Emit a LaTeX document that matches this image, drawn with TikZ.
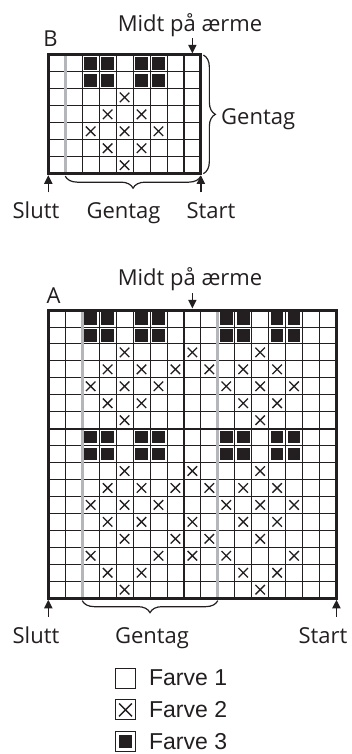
\documentclass[tikz,border=0pt]{standalone}
\usepackage{fontspec}
\setmainfont{Open Sans}
\newfontfamily\legendfont{Liberation Sans}
\usetikzlibrary{arrows.meta,positioning,calc,decorations.pathreplacing}
\definecolor{ink}{RGB}{35,31,32}
\definecolor{repgray}{RGB}{180,182,185}
\tikzset{
  cellline/.style={draw=ink, line width=0.9pt},
  midline/.style={draw=ink, line width=1.9pt},
  repline/.style={draw=repgray, line width=3pt},
  frame/.style={draw=ink, line width=3pt},
  xmark/.style={draw=ink, line width=1.3pt},
  dot/.style={fill=ink},
  pointer/.style={-{Triangle[length=8.5pt,width=8pt]}, line width=1.6pt, draw=ink, shorten >=1.6pt},
  gbrace/.style={decorate, decoration={brace, amplitude=12pt, raise=2.5pt}, line width=1.2pt, draw=ink},
  label/.style={font=\fontsize{22}{26}\selectfont, text=ink, inner sep=0pt, anchor=base},
  legbox/.style={draw=ink, line width=0.9pt, minimum size=20pt, inner sep=0pt},
  legtext/.style={font=\legendfont\fontsize{23}{27}\selectfont, text=ink, inner sep=0pt}
}

\begin{document}
\begin{tikzpicture}[x=1pt, y=-1pt]
\useasboundingbox (0,0) rectangle (352,754);

% chart B, 9 x 7 cells
\begin{scope}[shift={(48.3,55)}, x=16.95pt, y=-16.95pt]
  \foreach \cc in {1,...,8} \draw[cellline] (\cc,0) -- (\cc,7);
  \foreach \rr in {1,...,6} \draw[cellline] (0,\rr) -- (9,\rr);
  \draw[repline] (1,0) -- (1,7);
  \draw[midline] (8,0) -- (8,7);
  \draw[frame] (0,0) rectangle (9,7);
  \foreach \cc in {2,3,5,6} \foreach \rr in {0,1}
    \fill[dot] (\cc+.13,\rr+.13) rectangle (\cc+.87,\rr+.87);
  \foreach \cc/\rr in {4/2,3/3,5/3,2/4,4/4,6/4,3/5,5/5,4/6}
    \draw[xmark] (\cc+.22,\rr+.22) -- (\cc+.78,\rr+.78) (\cc+.78,\rr+.22) -- (\cc+.22,\rr+.78);
  \coordinate (B-ne) at (9,0);
  \coordinate (B-se) at (9,7);
  \coordinate (B-sw) at (0,7);
  \coordinate (B-rep) at (1,7);
  \coordinate (B-mid) at (8.5,0);
  \coordinate (B-midtop) at (8.5,-1);
  \coordinate (B-slutt) at (0,8.1);
  \coordinate (B-start) at (9,8.1);
\end{scope}
\draw[pointer] (B-midtop) -- (B-mid);
\draw[pointer] (B-slutt) -- (B-sw);
\draw[pointer] (B-start) -- (B-se);
\draw[gbrace] (B-ne) -- (B-se);
\draw[gbrace] (B-se) -- (B-rep);
\node[label] (B-name) at (50.5,47) {B};
\node[label] (B-midt) at (190,32) {Midt på ærme};
\node[label, anchor=base west] (B-gentag-side) at (221,124.5) {Gentag};
\node[label] (B-slutt-text) at (36,218) {Slutt};
\node[label] (B-gentag) at (123.5,218) {Gentag};
\node[label] (B-start-text) at (211,218) {Start};

% chart A, 17 x 17 cells
\begin{scope}[shift={(48.3,310)}, x=16.95pt, y=-16.95pt]
  \foreach \cc in {1,...,16} \draw[cellline] (\cc,0) -- (\cc,17);
  \foreach \rr in {1,...,16} \draw[cellline] (0,\rr) -- (17,\rr);
  \draw[repline] (2,0) -- (2,17) (10,0) -- (10,17);
  \draw[midline] (8,0) -- (8,17) (0,7) -- (17,7);
  \draw[frame] (0,0) rectangle (17,17);
  \foreach \cc in {2,3,5,6,10,11,13,14} \foreach \rr in {0,1,7,8}
    \fill[dot] (\cc+.13,\rr+.13) rectangle (\cc+.87,\rr+.87);
  \foreach \cc/\rr in {4/2,8/2,12/2, 3/3,5/3,7/3,9/3,11/3,13/3, 2/4,4/4,6/4,10/4,12/4,14/4,
      3/5,5/5,11/5,13/5, 4/6,12/6, 4/9,8/9,12/9, 3/10,5/10,7/10,9/10,11/10,13/10,
      2/11,4/11,6/11,10/11,12/11,14/11, 3/12,5/12,8/12,11/12,13/12, 4/13,7/13,9/13,12/13,
      2/14,6/14,8/14,10/14,14/14, 3/15,5/15,11/15,13/15, 4/16,12/16}
    \draw[xmark] (\cc+.22,\rr+.22) -- (\cc+.78,\rr+.78) (\cc+.78,\rr+.22) -- (\cc+.22,\rr+.78);
  \coordinate (A-se) at (17,17);
  \coordinate (A-sw) at (0,17);
  \coordinate (A-rep1) at (2,17);
  \coordinate (A-rep2) at (10,17);
  \coordinate (A-mid) at (8.5,0);
  \coordinate (A-midtop) at (8.5,-1);
  \coordinate (A-slutt) at (0,18.1);
  \coordinate (A-start) at (17,18.1);
\end{scope}
\draw[pointer] (A-midtop) -- (A-mid);
\draw[pointer] (A-slutt) -- (A-sw);
\draw[pointer] (A-start) -- (A-se);
\draw[gbrace] (A-rep2) -- (A-rep1);
\node[label] (A-name) at (53.5,303) {A};
\node[label] (A-midt) at (190,285) {Midt på ærme};
\node[label] (A-slutt-text) at (36,643) {Slutt};
\node[label] (A-gentag) at (152,643) {Gentag};
\node[label] (A-start-text) at (323,643) {Start};

% legend
\node[legbox] (farve1) at (125.5,678) {};
\node[legbox, below=11pt of farve1] (farve2) {};
\node[legbox, below=11pt of farve2] (farve3) {};
\draw[xmark] ([shift={(4,4)}]farve2.north west) -- ([shift={(-4,-4)}]farve2.south east)
  ([shift={(-4,4)}]farve2.north east) -- ([shift={(4,-4)}]farve2.south west);
\fill[dot] ([shift={(4,4)}]farve3.north west) rectangle ([shift={(-4,-4)}]farve3.south east);
\node[legtext, right=13pt of farve1] (farve1-text) {Farve 1};
\node[legtext, right=13pt of farve2] (farve2-text) {Farve 2};
\node[legtext, right=13pt of farve3] (farve3-text) {Farve 3};
\end{tikzpicture}
\end{document}
